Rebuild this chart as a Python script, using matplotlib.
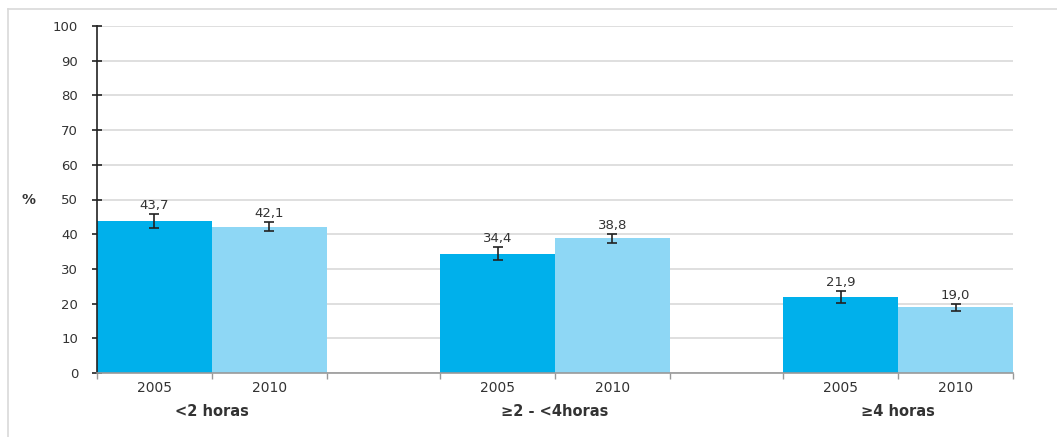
import numpy as np
import matplotlib.pyplot as plt
from matplotlib.lines import Line2D

plt.rcParams['font.family'] = ['DejaVu Sans']

categories = ['<2 horas', '≥2 - <4horas', '≥4 horas']
years = ['2005', '2010']
values_2005 = [43.7, 34.4, 21.9]
values_2010 = [42.1, 38.8, 19.0]
err_2005 = [2.0, 1.9, 1.7]
err_2010 = [1.3, 1.2, 1.0]
value_labels_2005 = ['43,7', '34,4', '21,9']
value_labels_2010 = ['42,1', '38,8', '19,0']

dark = '#00B0EB'
light = '#8ED7F5'
txt = '#333333'

fig = plt.figure(figsize=(10.57, 4.37), dpi=100)
ax = fig.add_axes([97 / 1057, 64 / 437, 916 / 1057, 347 / 437])

# light frame round the figure
fig.add_artist(Line2D([8 / 1057, 1.0], [1 - 9 / 437, 1 - 9 / 437],
                      transform=fig.transFigure, color='#D9D9D9', lw=1.2))
fig.add_artist(Line2D([8 / 1057, 8 / 1057], [0, 1 - 9 / 437],
                      transform=fig.transFigure, color='#D9D9D9', lw=1.2))

w = 0.335
x = np.arange(len(categories))
x1 = x - w / 2
x2 = x + w / 2

ax.bar(x1, values_2005, width=w, color=dark, zorder=2)
ax.bar(x2, values_2010, width=w, color=light, zorder=2)
ax.errorbar(x1, values_2005, yerr=err_2005, fmt='none', ecolor='#222222',
            elinewidth=1.2, capsize=3.3, capthick=1.2, zorder=3)
ax.errorbar(x2, values_2010, yerr=err_2010, fmt='none', ecolor='#222222',
            elinewidth=1.2, capsize=3.3, capthick=1.2, zorder=3)

for xs, vs, es, labs in [(x1, values_2005, err_2005, value_labels_2005),
                         (x2, values_2010, err_2010, value_labels_2010)]:
    for xi, v, e, lab in zip(xs, vs, es, labs):
        ax.annotate(lab, (xi, v + e), xytext=(0, 1.5), textcoords='offset points',
                    ha='center', va='bottom', fontsize=9.5, color=txt)

ax.set_xlim(-w, len(categories) - 1 + w)
ax.set_ylim(0, 100)
ax.set_yticks(np.arange(0, 101, 10))
ax.yaxis.grid(True, color='#D9D9D9', lw=1.2, zorder=0)
ax.set_axisbelow(True)

ax.set_xticks(np.concatenate([x1, x2]))
ax.set_xticklabels([years[0]] * 3 + [years[1]] * 3)
ax.tick_params(axis='x', length=0, pad=6, labelsize=10, labelcolor=txt)
edges = np.concatenate([x - w, x, x + w])
ax.set_xticks(edges, minor=True)
ax.tick_params(axis='x', which='minor', length=4, color='#999999', width=1)

ax.tick_params(axis='y', direction='inout', length=7, width=1.2, color='#222222',
               labelsize=9.5, labelcolor=txt, pad=10)

for s in ['top', 'right']:
    ax.spines[s].set_visible(False)
ax.spines['left'].set_color('#222222')
ax.spines['left'].set_linewidth(1.2)
ax.spines['bottom'].set_color('#999999')
ax.spines['bottom'].set_linewidth(1.2)

for xi, cat in zip(x, categories):
    ax.text(xi, -0.11, cat, transform=ax.get_xaxis_transform(), ha='center',
            va='center', fontsize=10.5, fontweight='bold', color=txt)

fig.text(28 / 1057, 1 - 200 / 437, '%', ha='center', va='center', fontsize=10,
         fontweight='bold', color=txt)

fig.savefig('out.png', dpi=100)
